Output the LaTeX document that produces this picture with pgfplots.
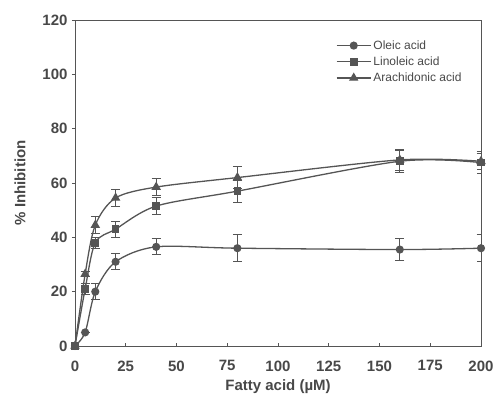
\documentclass[border=0pt]{standalone}
\usepackage{fontspec}
\setmainfont{Liberation Sans}
\usepackage{pgfplots}
\pgfplotsset{compat=1.18}
\definecolor{ink}{HTML}{555555}
\definecolor{txt}{HTML}{484848}
\begin{document}
\begin{tikzpicture}
\begin{axis}[
  scale only axis,
  width=406pt, height=326pt,
  xmin=0, xmax=200, ymin=0, ymax=120,
  xtick={0,25,...,200}, ytick={0,20,...,120},
  xtick pos=left, ytick pos=left,
  tick align=inside,
  major tick length=3pt,
  ytick style={xshift=-3pt},
  axis line style={ink, line width=0.9pt},
  every tick/.style={ink, line width=0.9pt},
  tick label style={font=\fontsize{15}{17}\selectfont\bfseries, text=txt},
  xticklabel style={yshift=-11pt},
  yticklabel style={xshift=-4pt},
  /pgf/number format/assume math mode=true,
  xlabel={\textbf{Fatty acid (µM)}},
  ylabel={\textbf{\% Inhibition}},
  label style={font=\fontsize{15}{17}\selectfont, text=txt},
  xlabel style={yshift=-2pt},
  ylabel style={yshift=10pt},
  legend style={draw=none, fill=none, at={(axis cs:127,114)}, anchor=north west,
    font=\fontsize{12}{14}\selectfont, text=txt, row sep=2pt},
  legend cell align=left,
  legend image code/.code={%
    \draw[mark repeat=2, mark phase=2, #1] plot coordinates {(0cm,0cm) (0.6cm,0cm) (1.2cm,0cm)};},
]
\addplot[ink, line width=1.3pt, smooth, mark=*, mark size=3.4pt, mark options={fill=ink, draw=ink},
  error bars/.cd, y dir=both, y explicit,
  error bar style={ink, line width=1pt},
  error mark options={rotate=90, mark size=4.5pt, ink, line width=1pt}]
  coordinates {
  (0,0) +- (0,0)
  (5,5) +- (0,0)
  (10,20) +- (0,3)
  (20,31) +- (0,3)
  (40,36.5) +- (0,3)
  (80,36) +- (0,5)
  (160,35.5) +- (0,4)
  (200,36) +- (0,5)
  };
\addlegendentry{Oleic acid}
\addplot[ink, line width=1.3pt, smooth, mark=square*, mark size=3.2pt, mark options={fill=ink, draw=ink},
  error bars/.cd, y dir=both, y explicit,
  error bar style={ink, line width=1pt},
  error mark options={rotate=90, mark size=4.5pt, ink, line width=1pt}]
  coordinates {
  (0,0) +- (0,0)
  (5,21) +- (0,2)
  (10,38) +- (0,2)
  (20,43) +- (0,3)
  (40,51.5) +- (0,3)
  (80,57) +- (0,4)
  (160,68) +- (0,4)
  (200,67.5) +- (0,4)
  };
\addlegendentry{Linoleic acid}
\addplot[ink, line width=1.3pt, smooth, mark=triangle*, mark size=4.2pt, mark options={fill=ink, draw=ink},
  error bars/.cd, y dir=both, y explicit,
  error bar style={ink, line width=1pt},
  error mark options={rotate=90, mark size=4.5pt, ink, line width=1pt}]
  coordinates {
  (0,0) +- (0,0)
  (5,26.5) +- (0,1)
  (10,44.5) +- (0,3)
  (20,54.5) +- (0,3)
  (40,58.5) +- (0,3)
  (80,62) +- (0,4)
  (160,68.5) +- (0,4)
  (200,68) +- (0,3)
  };
\addlegendentry{Arachidonic acid}
\end{axis}
\pgfresetboundingbox
\path (current axis.south west) ++(-75pt,-55pt) coordinate (bl);
\path (current axis.north east) ++(15pt,20pt) coordinate (tr);
\path[use as bounding box] (bl) rectangle (tr);
\end{tikzpicture}
\end{document}
